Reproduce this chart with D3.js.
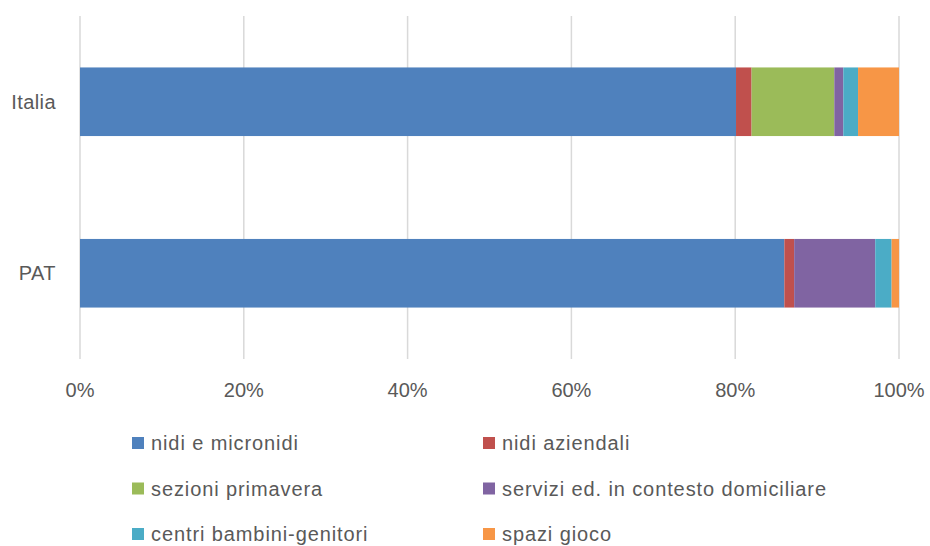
<!DOCTYPE html>
<html>
<head>
<meta charset="utf-8">
<script src="https://cdn.jsdelivr.net/npm/d3@7"></script>
<style>
  body { margin: 0; background: #fff; }
  text { font-family: "Liberation Sans", Arial, sans-serif; fill: #595959; }
</style>
</head>
<body>
<svg id="canvas" width="930" height="546"></svg>
<script>
// Data
let categories = ['Italia', 'PAT']
let seriesNames = ['nidi e micronidi', 'nidi aziendali', 'sezioni primavera',
    'servizi ed. in contesto domiciliare', 'centri bambini-genitori', 'spazi gioco']
let italiaValues = [80.1, 1.9, 10.1, 1.1, 1.8, 5.0]
let patValues = [86.0, 1.2, 0, 9.9, 2.0, 0.9]
let tickValues = [0, 0.2, 0.4, 0.6, 0.8, 1]
let colors = ['#4F81BD', '#C0504D', '#9BBB59', '#8064A2', '#4BACC6', '#F79646']

let canvas = d3.select('#canvas')

let rows = [italiaValues, patValues].map((vals, i) => {
    let total = d3.sum(vals)
    let row = { cat: categories[i] }
    seriesNames.forEach((s, j) => row[s] = vals[j] / total)
    return row
})

let stacked = d3.stack().keys(seriesNames)(rows)

let x = d3.scaleLinear().domain([0, 1]).range([80, 899])
let y = d3.scaleBand().domain(categories).range([16, 359]).paddingInner(0.6).paddingOuter(0.3)

// gridlines
canvas.append('g')
    .selectAll('line')
    .data(tickValues)
    .enter()
    .append('line')
    .attr('x1', d => x(d)).attr('x2', d => x(d))
    .attr('y1', 16).attr('y2', 359)
    .style('stroke', '#D9D9D9')
    .style('stroke-width', 1.5)

// bars
canvas.append('g')
    .selectAll('g')
    .data(stacked)
    .enter()
    .append('g')
    .attr('fill', (d, i) => colors[i])
    .selectAll('rect')
    .data(d => d)
    .enter()
    .append('rect')
    .attr('x', d => x(d[0]))
    .attr('width', d => x(d[1]) - x(d[0]))
    .attr('y', d => y(d.data.cat))
    .attr('height', y.bandwidth())

// category labels
canvas.append('g')
    .selectAll('text')
    .data(categories)
    .enter()
    .append('text')
    .attr('x', 56)
    .attr('y', d => y(d) + y.bandwidth() / 2)
    .attr('dy', '0.35em')
    .attr('text-anchor', 'end')
    .style('font-size', '20px')
    .style('letter-spacing', '0.4px')
    .text(d => d)

// x tick labels
canvas.append('g')
    .selectAll('text')
    .data(tickValues)
    .enter()
    .append('text')
    .attr('x', d => x(d))
    .attr('y', 390)
    .attr('dy', '0.35em')
    .attr('text-anchor', 'middle')
    .style('font-size', '20px')
    .text(d3.format('.0%'))

// legend
let legend = canvas.append('g')
    .selectAll('g')
    .data(seriesNames)
    .enter()
    .append('g')
    .attr('transform', (d, i) => `translate(${i % 2 === 0 ? 132 : 483},${443 + Math.floor(i / 2) * 45.5})`)

legend.append('rect')
    .attr('x', 0).attr('y', -6)
    .attr('width', 12).attr('height', 12)
    .attr('fill', (d, i) => colors[i])

legend.append('text')
    .attr('x', 19)
    .attr('dy', '0.35em')
    .style('font-size', '20px')
    .style('letter-spacing', '0.9px')
    .text(d => d)
</script>
</body>
</html>
